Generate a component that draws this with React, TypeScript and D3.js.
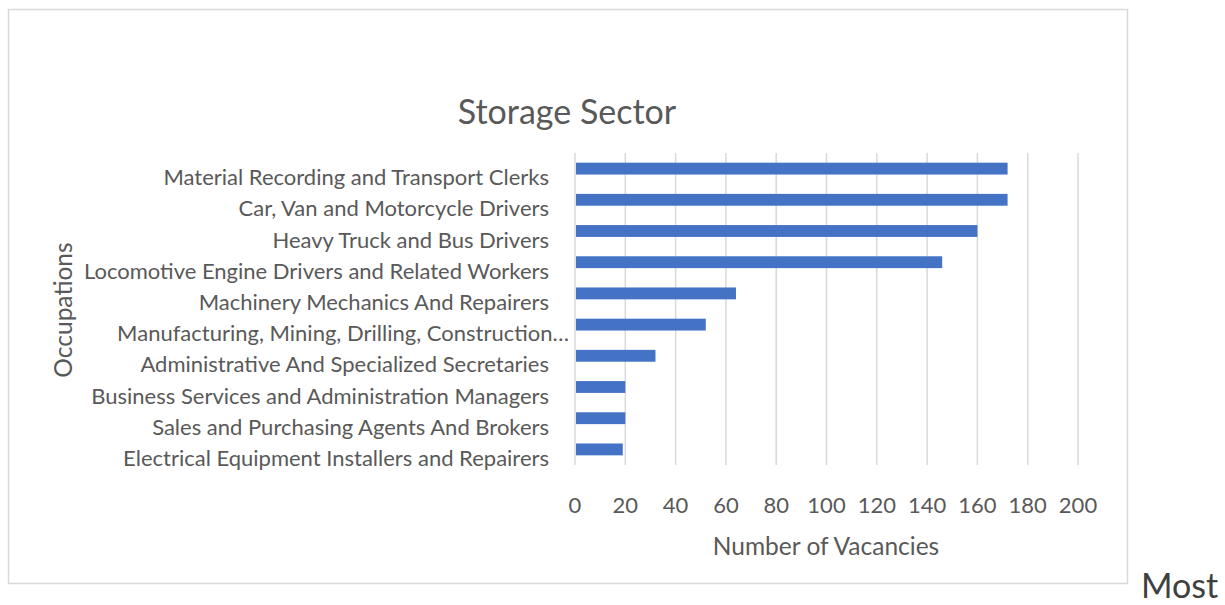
import React from 'react';
import * as d3 from 'd3';

const occupations = [
  'Material Recording and Transport Clerks',
  'Car, Van and Motorcycle Drivers',
  'Heavy Truck and Bus Drivers',
  'Locomotive Engine Drivers and Related Workers',
  'Machinery Mechanics And Repairers',
  'Manufacturing, Mining, Drilling, Construction…',
  'Administrative And Specialized Secretaries',
  'Business Services and Administration Managers',
  'Sales and Purchasing Agents And Brokers',
  'Electrical Equipment Installers and Repairers',
];
const vacancies = [172, 172, 160, 146, 64, 52, 32, 20, 20, 19];
const xTicks = [0, 20, 40, 60, 80, 100, 120, 140, 160, 180, 200];

const font = 'Lato, "Open Sans", sans-serif';
const grey = '#595959';

export default function App() {
  const x = d3.scaleLinear().domain([0, 200]).range([575, 1078]);
  const y = d3.scaleBand().domain(occupations).range([153, 465]);
  const bw = y.bandwidth();

  return (
    <svg width={1225} height={605} style={{ position: 'absolute', left: 0, top: 0 }}>
      <rect x={8.5} y={9.5} width={1119} height={574} fill="#fff" stroke="#d9d9d9" strokeWidth={1.5} />
      <text x={567} y={115} textAnchor="middle" dominantBaseline="middle" fontFamily={font} fontSize={34} fill={grey}>
        Storage Sector
      </text>
      {xTicks.map(t => (
        <line key={t} x1={x(t)} x2={x(t)} y1={153} y2={465} stroke="#d9d9d9" strokeWidth={1.5} />
      ))}
      {occupations.map((c, i) => (
        <rect key={c} x={x(0) + 1} y={(y(c) as number) + bw * 0.31} width={x(vacancies[i]) - x(0) - 1} height={bw * 0.38} fill="#4472c4" />
      ))}
      {occupations.map(c => (
        <text key={c} x={c.endsWith('…') ? 569 : 549} y={(y(c) as number) + bw / 2 + 11} textAnchor="end" dominantBaseline="middle" fontFamily={font} fontSize={22} fill={grey}>
          {c}
        </text>
      ))}
      {xTicks.map(t => (
        <text key={t} x={x(t)} y={507} textAnchor="middle" dominantBaseline="middle" fontFamily={font} fontSize={22} fill={grey}>
          {t}
        </text>
      ))}
      <text x={826} y={549} textAnchor="middle" dominantBaseline="middle" fontFamily={font} fontSize={24.5} fill={grey}>
        Number of Vacancies
      </text>
      <text transform="translate(66,310) rotate(-90)" textAnchor="middle" dominantBaseline="middle" fontFamily={font} fontSize={24.5} fill={grey}>
        Occupations
      </text>
      <text x={1141} y={598} fontFamily={font} fontSize={34} fill="#404040">
        Most
      </text>
    </svg>
  );
}
